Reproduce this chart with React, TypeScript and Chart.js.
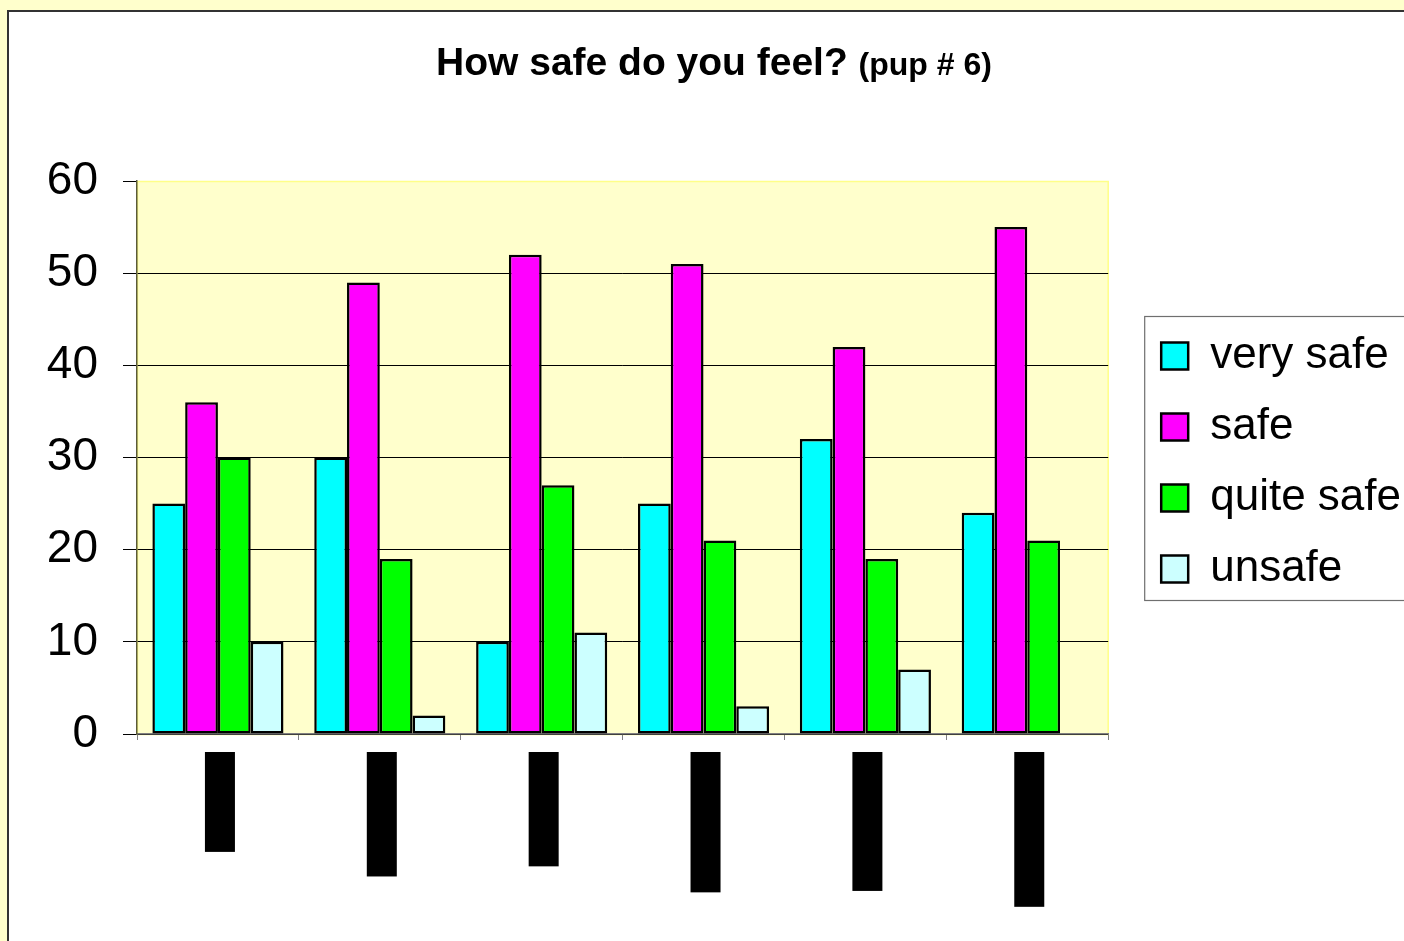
import React, { useEffect, useRef } from 'react';
import { Chart, registerables } from 'chart.js';

Chart.register(...registerables);

// ---- data ----
const categories = ['Year 3/4', 'Year 5 & 6', 'Year 7 / 8', 'Year 9 boys', 'Year 9 & 10', 'Year 10 boys'];
const seriesNames = ['very safe', 'safe', 'quite safe', 'unsafe'];
const verySafe = [25, 30, 10, 25, 32, 24];
const safe = [36, 49, 52, 51, 42, 55];
const quiteSafe = [30, 19, 27, 21, 19, 21];
const unsafe = [10, 2, 11, 3, 7, 0];
const seriesColors = ['#00FFFF', '#FF00FF', '#00FF00', '#CCFFFF'];
const yMin = 0;
const yMax = 60;
const yStep = 10;
const titleMain = 'How safe do you feel?';
const titleSub = '(pup # 6)';

const FONT = 'Arial, "Liberation Sans", sans-serif';
const W = 1416;
const H = 950;

const plotBg = {
  id: 'plotBg',
  beforeDraw(chart: any) {
    const { ctx, chartArea: a } = chart;
    ctx.save();
    ctx.fillStyle = '#FFFFCC';
    ctx.fillRect(a.left, a.top, a.right - a.left, a.bottom - a.top);
    ctx.strokeStyle = '#FFFF88';
    ctx.lineWidth = 1.5;
    ctx.strokeRect(a.left + 0.5, a.top + 0.5, a.right - a.left - 0.5, a.bottom - a.top);
    ctx.restore();
  },
};

const legendFrame = {
  id: 'legendFrame',
  afterDraw(chart: any) {
    const lg = chart.legend;
    if (!lg || !lg.legendHitBoxes || !lg.legendHitBoxes.length) return;
    const hb = lg.legendHitBoxes;
    const first = hb[0];
    const last = hb[hb.length - 1];
    const { ctx } = chart;
    ctx.save();
    ctx.strokeStyle = '#6f6f6f';
    ctx.lineWidth = 1.2;
    const left = first.left - 17;
    const top = first.top - 18;
    const bottom = last.top + last.height + 9;
    ctx.strokeRect(left + 0.5, top + 0.5, chart.width + 40 - left, bottom - top);
    ctx.restore();
  },
};

const mixedTitle = {
  id: 'mixedTitle',
  afterDraw(chart: any) {
    const { ctx } = chart;
    ctx.save();
    const f1 = `bold 39px ${FONT}`;
    const f2 = `bold 32px ${FONT}`;
    ctx.font = f1;
    const w1 = ctx.measureText(titleMain + ' ').width;
    ctx.font = f2;
    const w2 = ctx.measureText(titleSub).width;
    const x0 = chart.width / 2 - 3 - (w1 + w2) / 2;
    const y = 63;
    ctx.fillStyle = '#000';
    ctx.textBaseline = 'alphabetic';
    ctx.textAlign = 'left';
    ctx.font = f1;
    ctx.fillText(titleMain + ' ', x0, y);
    ctx.font = f2;
    ctx.fillText(titleSub, x0 + w1, y);
    ctx.restore();
  },
};

export default function App() {
  const ref = useRef<HTMLCanvasElement | null>(null);

  useEffect(() => {
    if (!ref.current) return;
    const series = [verySafe, safe, quiteSafe, unsafe];
    const chart = new Chart(ref.current, {
      type: 'bar',
      data: {
        labels: categories,
        datasets: series.map((d, i) => ({
          label: seriesNames[i],
          data: d,
          backgroundColor: seriesColors[i],
          borderColor: '#000',
          borderWidth: 2.5,
          borderSkipped: false,
          categoryPercentage: 0.81,
          barPercentage: 1.0,
        })),
      },
      options: {
        responsive: false,
        animation: false,
        devicePixelRatio: 1,
        layout: { padding: { top: 169, left: 0, right: 14, bottom: 0 } },
        plugins: {
          title: { display: false },
          tooltip: { enabled: false },
          legend: {
            display: true,
            position: 'right',
            fullSize: false,
            maxWidth: 420,
            title: { display: true, text: ' ', font: { size: 10, lineHeight: 1 }, padding: 0 },
            labels: {
              boxWidth: 27,
              boxHeight: 27,
              padding: 27,
              color: '#000',
              font: { family: FONT, size: 44 },
            },
          },
        },
        scales: {
          x: {
            grid: {
              display: true,
              drawOnChartArea: false,
              drawTicks: true,
              tickLength: 6,
              color: '#808080',
              offset: true,
            },
            border: { display: true, color: '#808080', width: 1.5 },
            ticks: {
              autoSkip: false,
              minRotation: 90,
              maxRotation: 90,
              padding: 14,
              labelOffset: -11,
              color: '#000',
              showLabelBackdrop: true,
              backdropColor: '#000',
              backdropPadding: 2,
              font: { family: FONT, size: 26, lineHeight: 1 },
            },
            afterFit(s: any) {
              s.height = H - 722;
            },
          },
          y: {
            min: yMin,
            max: yMax,
            ticks: {
              stepSize: yStep,
              padding: 25,
              color: '#000',
              font: { family: FONT, size: 46 },
            },
            grid: {
              color: (c: any) => (c.tick && c.tick.value === yMax ? '#FFFF88' : '#000'),
              tickColor: '#000',
              tickLength: 14,
              lineWidth: 1,
            },
            border: { display: true, color: '#5a5a3a', width: 1.5 },
            afterFit(s: any) {
              s.width = 128;
            },
          },
          gap: {
            type: 'linear',
            position: 'right',
            display: true,
            grid: { display: false, drawTicks: false },
            border: { display: false },
            ticks: { display: false },
            afterFit(s: any) {
              s.width = 26;
            },
          },
        },
      },
      plugins: [plotBg, legendFrame, mixedTitle],
    } as any);
    return () => chart.destroy();
  }, []);

  return (
    <div
      style={{
        position: 'fixed',
        left: 0,
        top: 0,
        width: 1404,
        height: 941,
        background: '#FFFFCC',
        overflow: 'hidden',
      }}
    >
      <div
        style={{
          position: 'absolute',
          left: 7,
          top: 10,
          width: W,
          height: H,
          border: '2px solid #333',
          background: '#fff',
        }}
      >
        <canvas ref={ref} width={W} height={H} style={{ display: 'block', width: W, height: H }} />
      </div>
    </div>
  );
}
